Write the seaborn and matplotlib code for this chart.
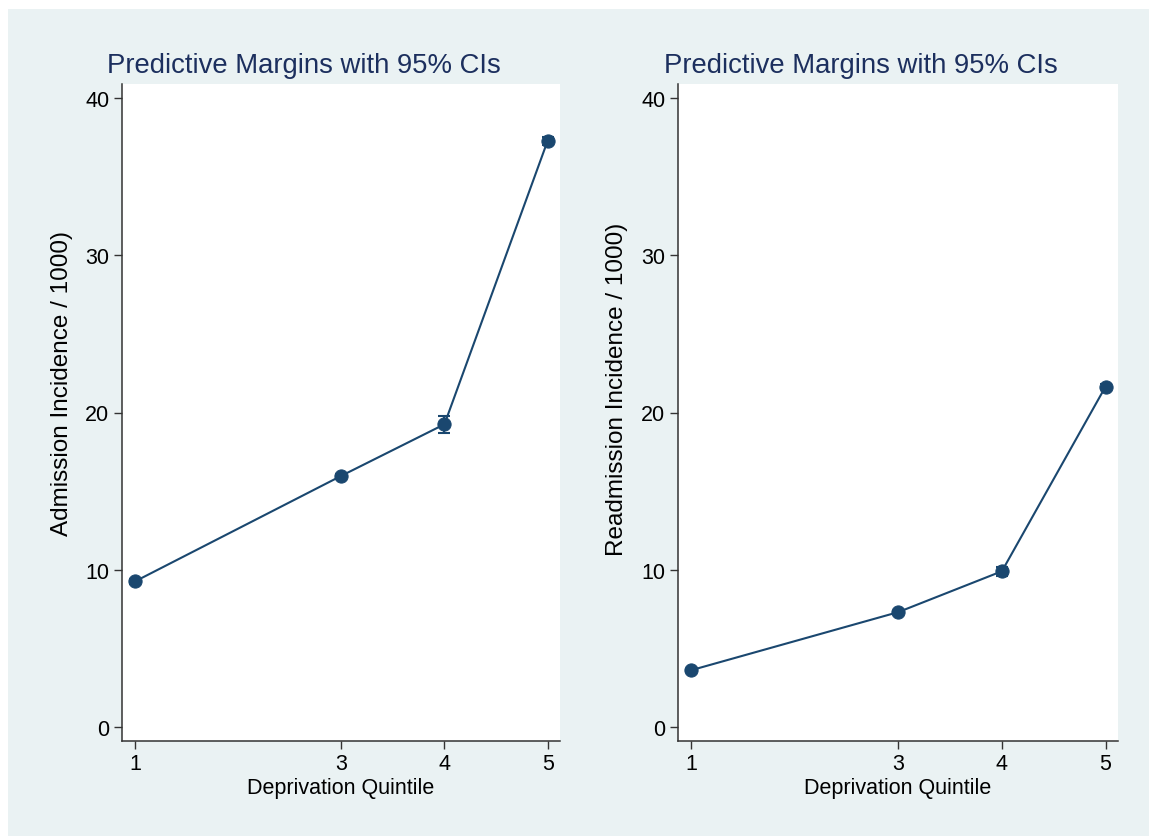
import matplotlib
matplotlib.use("Agg")
import matplotlib.pyplot as plt
import seaborn as sns
import pandas as pd
from matplotlib.patches import Rectangle

sns.set_theme(style="white")
plt.rcParams['font.family'] = ['Liberation Sans', 'DejaVu Sans']

quintiles = [1, 3, 4, 5]
admission = [9.25, 15.97, 19.25, 37.28]
admission_lo = [9.1, 15.85, 18.7, 37.05]
admission_hi = [9.4, 16.1, 19.8, 37.5]
readmission = [3.6, 7.3, 9.9, 21.65]
readmission_lo = [3.5, 7.2, 9.6, 21.5]
readmission_hi = [3.7, 7.4, 10.2, 21.8]
ylabels = ["Admission Incidence / 1000)", "Readmission Incidence / 1000)"]
title = "Predictive Margins with 95% CIs"
xlabel = "Deprivation Quintile"
yticks = [0, 10, 20, 30, 40]

navy = "#1a476f"
bg = "#eaf2f3"
title_color = "#1c2f5e"

fig = plt.figure(figsize=(11.49, 8.37), dpi=100)
fig.patch.set_facecolor("white")
fig.add_artist(Rectangle((8/1149, 0), 1 - 8/1149, 1 - 10/837, transform=fig.transFigure,
                         facecolor=bg, edgecolor="none", zorder=0))

positions = [[122/1149, 1-742/837, 438/1149, 657/837],
             [678/1149, 1-742/837, 440/1149, 657/837]]
title_x = [304/1149, 861/1149]
ylabel_xy = [(-0.112, 0.546), (-0.114, 0.536)]

series = [(admission, admission_lo, admission_hi), (readmission, readmission_lo, readmission_hi)]

for i in range(2):
    ax = fig.add_axes(positions[i])
    vals, lo, hi = series[i]
    df = pd.DataFrame({"q": quintiles, "v": vals})
    sns.lineplot(data=df, x="q", y="v", ax=ax, color=navy, linewidth=1.5,
                 marker="o", markersize=9.5, markeredgecolor=navy, zorder=3)
    yerr = [[v - l for v, l in zip(vals, lo)], [h - v for v, h in zip(vals, hi)]]
    ax.errorbar(quintiles, vals, yerr=yerr, fmt="none", ecolor=navy, elinewidth=1.5,
                capsize=4.5, capthick=1.5, zorder=2)
    ax.set_facecolor("white")
    ax.set_xlim(0.875, 5.12)
    ax.set_ylim(-0.9, 40.9)
    ax.set_xticks(quintiles)
    ax.set_xticklabels([str(q) for q in quintiles])
    ax.set_yticks(yticks)
    ax.set_yticklabels([str(t) for t in yticks])
    for s in ["top", "right"]:
        ax.spines[s].set_visible(False)
    for s in ["left", "bottom"]:
        ax.spines[s].set_color("#333333")
        ax.spines[s].set_linewidth(1.1)
    ax.tick_params(axis="both", which="major", direction="out", length=6, width=1.0,
                   color="#333333", labelsize=15.5, labelcolor="black", pad=3,
                   left=True, bottom=True)
    ax.set_xlabel(xlabel, fontsize=15.5, color="black")
    ax.xaxis.set_label_coords(0.5, -0.055)
    ax.set_ylabel(ylabels[i], fontsize=17.5, color="black")
    ax.yaxis.set_label_coords(*ylabel_xy[i])
    fig.text(title_x[i], 1 - 66/837, title, ha="center", va="center",
             fontsize=19.8, color=title_color)

fig.savefig("out.png", dpi=100, facecolor=fig.get_facecolor())
